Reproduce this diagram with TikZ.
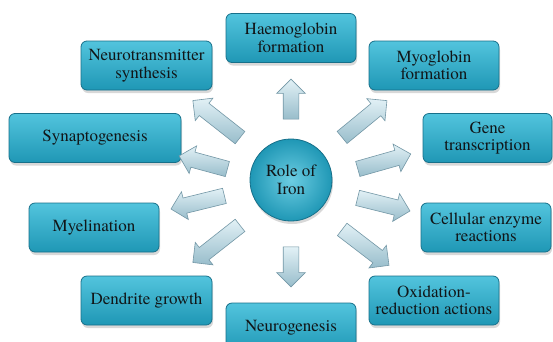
\documentclass[tikz,border=0pt]{standalone}
\usepackage{fontspec}
\setmainfont{texgyretermes}[Extension=.otf, UprightFont=*-regular, BoldFont=*-bold, ItalicFont=*-italic, BoldItalicFont=*-bolditalic]
\usetikzlibrary{shapes.arrows,shadows}
\definecolor{boxtop}{HTML}{52C4DD}
\definecolor{boxbot}{HTML}{1F97B5}
\definecolor{boxline}{HTML}{17708A}
\definecolor{arrtop}{HTML}{E2F1F6}
\definecolor{arrbot}{HTML}{98BDCB}
\definecolor{arrline}{HTML}{7397A6}
\definecolor{txt}{HTML}{111618}
\tikzset{
  rolebox/.style={rectangle, rounded corners=6pt, draw=boxline, line width=0.8pt,
    top color=boxtop, bottom color=boxbot, text=txt, align=center,
    minimum width=130pt, minimum height=49pt, inner sep=2pt,
    font=\rmfamily\fontsize{17}{17.5}\selectfont,
    drop shadow={shadow xshift=1pt, shadow yshift=-3pt, opacity=0.3}},
  rolearrow/.style={single arrow, draw=arrline, line width=0.6pt,
    top color=arrtop, bottom color=arrbot,
    inner xsep=0pt, inner ysep=7.5pt, minimum width=15pt,
    single arrow head extend=6.5pt, single arrow head indent=0pt},
  hub/.style={circle, draw=boxline, line width=0.8pt, inner color=boxtop!85!white,
    outer color=boxbot, minimum size=82pt, align=center, text=txt,
    font=\rmfamily\fontsize{17}{17.5}\selectfont,
    drop shadow={shadow xshift=1pt, shadow yshift=-3pt, opacity=0.3}}
}
\begin{document}
\begin{tikzpicture}[x=1pt,y=-1pt]
\useasboundingbox (0,0) rectangle (553,341);
\clip (0,0) rectangle (553,341);
\fill[white] (0,0) rectangle (553,341);
\node[hub] (iron) at (291,180) {Role of\\Iron};
\node[rolebox] (haem) at (291,38) {Haemoglobin\\formation};
\node[rolebox, minimum width=131pt] (neuro) at (146.5,65.5) {Neurotransmitter\\synthesis};
\node[rolebox] (myo) at (434,65.5) {Myoglobin\\formation};
\node[rolebox, minimum width=172pt] (syn) at (95,138) {Synaptogenesis};
\node[rolebox, minimum width=129pt] (gene) at (487.5,138) {Gene\\transcription};
\node[rolebox] (mye) at (94,227.5) {Myelination};
\node[rolebox] (cell) at (486,227.5) {Cellular enzyme\\reactions};
\node[rolebox, minimum width=131pt] (dend) at (146.5,300.5) {Dendrite growth};
\node[rolebox] (oxid) at (434,300.5) {Oxidation-\\reduction actions};
\node[rolebox, minimum height=50pt] (ngen) at (291,328) {Neurogenesis};
% arrows
\node[rolearrow, minimum height=40pt, rotate=90] (a1) at (291,103) {};
\node[rolearrow, minimum height=40pt, rotate=-90] (a2) at (291,263) {};
\node[rolearrow, minimum height=58pt, rotate=39.4] (a3) at (361.5,121.5) {};
\node[rolearrow, minimum height=60pt, rotate=141.8] (a4) at (219.5,121.5) {};
\node[rolearrow, minimum height=55pt, rotate=15.8] (a5) at (380.5,162.5) {};
\node[rolearrow, minimum height=54pt, rotate=-14] (a6) at (380,203.5) {};
\node[rolearrow, minimum height=59pt, rotate=-37.5] (a7) at (362.5,245) {};
\node[rolearrow, minimum height=50pt, rotate=164.8] (a8) at (207,163.5) {};
\node[rolearrow, minimum height=55pt, rotate=-166.2] (a9) at (201.5,201.5) {};
\node[rolearrow, minimum height=60pt, rotate=-141.8] (a10) at (219.5,241.5) {};
\end{tikzpicture}
\end{document}
